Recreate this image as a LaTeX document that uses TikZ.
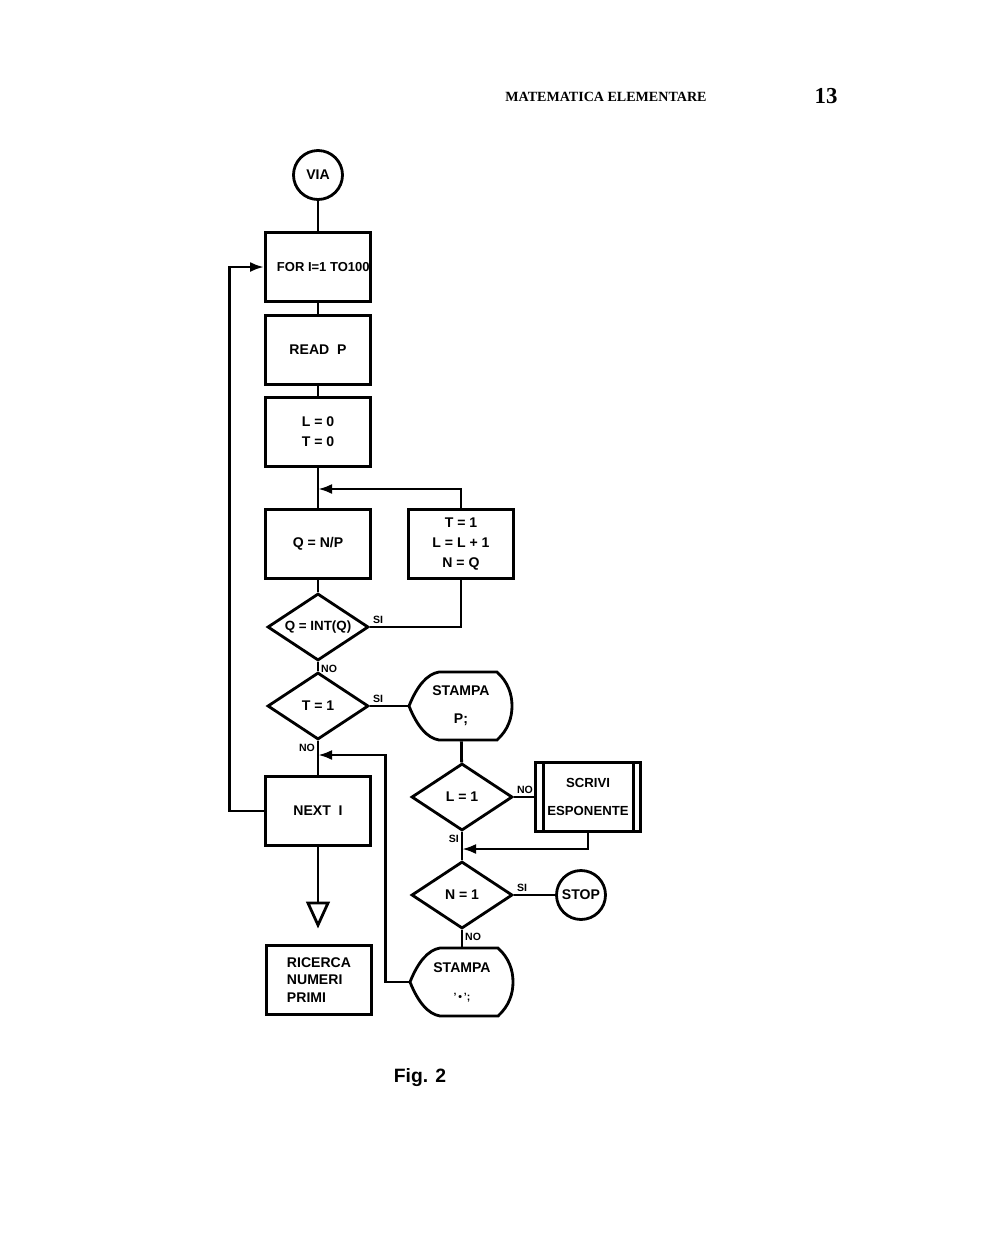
\documentclass[tikz,border=0pt]{standalone}
\usepackage{fontspec}
\setmainfont{Liberation Sans}
\newfontfamily\headfont{Liberation Serif}
\usetikzlibrary{shapes.geometric,arrows.meta}

\begin{document}
\begin{tikzpicture}[x=0.02cm,y=-0.02cm,>={Latex[length=2.8mm,width=2mm]},
    line width=1.6pt,font=\bfseries\fontsize{8}{11.5}\selectfont,
    box/.style={draw,rectangle,minimum width=2.1cm,minimum height=1.38cm,inner sep=0pt,align=center},
    test/.style={draw,diamond,aspect=1.5,minimum width=2.02cm,minimum height=1.34cm,inner sep=0pt},
    term/.style={draw,circle,minimum size=0.98cm,inner sep=0pt},
    outp/.style={minimum width=2.08cm,minimum height=1.36cm,inner sep=0pt,align=center},
    lbl/.style={font=\bfseries\fontsize{6}{6}\selectfont,inner sep=1pt}]
  \useasboundingbox (0,0) rectangle (1000,1258);
  \node[font=\headfont\bfseries\fontsize{8}{9}\selectfont] (head) at (606,97) {MATEMATICA ELEMENTARE};
  \node[font=\headfont\bfseries\fontsize{13}{15}\selectfont] (pg) at (826,96) {13};
  \node[term] (via) at (318,175) {VIA};
  \node[box,font=\bfseries\fontsize{7.4}{9}\selectfont] (for) at (318,267) {\hspace{6pt}FOR I=1 TO100};
  \node[box] (read) at (318,350) {READ\ \ P};
  \node[box] (lt) at (318,432) {L\ =\ 0\\T\ =\ 0};
  \node[box] (qnp) at (318,544) {Q = N/P};
  \node[box] (upd) at (461,544) {T = 1\\L = L + 1\\N = Q};
  \node[test,font=\bfseries\fontsize{7.6}{9}\selectfont,label={[lbl,anchor=south west]right:SI},label={[lbl,anchor=north west]below:NO}] (qint) at (318,627) {Q = INT(Q)};
  \node[test,label={[lbl,anchor=south west]right:SI},label={[lbl,anchor=north east]below:NO}] (t1) at (318,706) {T = 1};
  \node[outp] (sp1) at (461,706) {STAMPA\\[4.5pt]P;};
  \node[box] (next) at (318,811) {NEXT\ \ I};
  \coordinate (tri) at (318,903);
  \node[box,align=left,font=\bfseries\fontsize{8}{10}\selectfont] (ric) at (319,980) {RICERCA\\NUMERI\\PRIMI};
  \node[test,label={[lbl,anchor=south west]right:NO},label={[lbl,anchor=north east]below:SI}] (l1) at (462,797) {L = 1};
  \node[box,font=\bfseries\fontsize{7.5}{11.5}\selectfont] (scr) at (588,797) {SCRIVI\\[4.5pt]ESPONENTE};
  \node[test,label={[lbl,anchor=south west]right:SI},label={[lbl,anchor=north west]below:NO}] (n1) at (462,895) {N = 1};
  \node[term] (stop) at (581,895) {STOP};
  \node[outp] (sp2) at (462,982) {STAMPA\\[4.5pt]{\fontsize{6}{6}\selectfont '\,\textbullet\,';}};
  \node[font=\bfseries\fontsize{11}{13}\selectfont] (fig) at (420,1078) {Fig. 2};

  % output shapes
  \foreach \s in {sp1,sp2}
    \draw[shift={(\s)}] (-52,0) .. controls (-44,-20) and (-34,-32) .. (-22,-34) -- (36,-34)
      .. controls (47,-24) and (51,-12) .. (51,0) .. controls (51,12) and (47,24) .. (36,34)
      -- (-22,34) .. controls (-34,32) and (-44,20) .. (-52,0) -- cycle;
  % double sides
  \draw ([xshift=.18cm]scr.north west) -- ([xshift=.18cm]scr.south west);
  \draw ([xshift=-.16cm]scr.north east) -- ([xshift=-.16cm]scr.south east);

  \coordinate (m1) at (318,489);
  \coordinate (m2) at (318,755);
  \coordinate (m3) at (462,849);
  \draw (via) -- (for);
  \draw (for) -- (read);
  \draw (read) -- (lt);
  \draw (lt) -- (m1) -- (qnp);
  \draw[->] (upd) |- (m1);
  \draw (qnp) -- (qint);
  \draw (qint) -| (upd);
  \draw (qint) -- (t1);
  \draw (t1) -- (sp1);
  \draw (t1) -- (m2) -- (next);
  \draw[->] (sp2.west) -- ++(-23,0) |- (m2);
  \draw[->] (next.west) -- ++(-35,0) |- (for.west);
  \draw (next) -- (tri);
  \draw (tri) -- ++(-10,0) -- ++(10,22) -- ++(10,-22) -- cycle;
  \draw (sp1) -- (l1);
  \draw (l1) -- (scr);
  \draw (l1) -- (m3) -- (n1);
  \draw[->] (scr) |- (m3);
  \draw (n1) -- (stop);
  \draw (n1) -- (sp2);
\end{tikzpicture}
\end{document}
